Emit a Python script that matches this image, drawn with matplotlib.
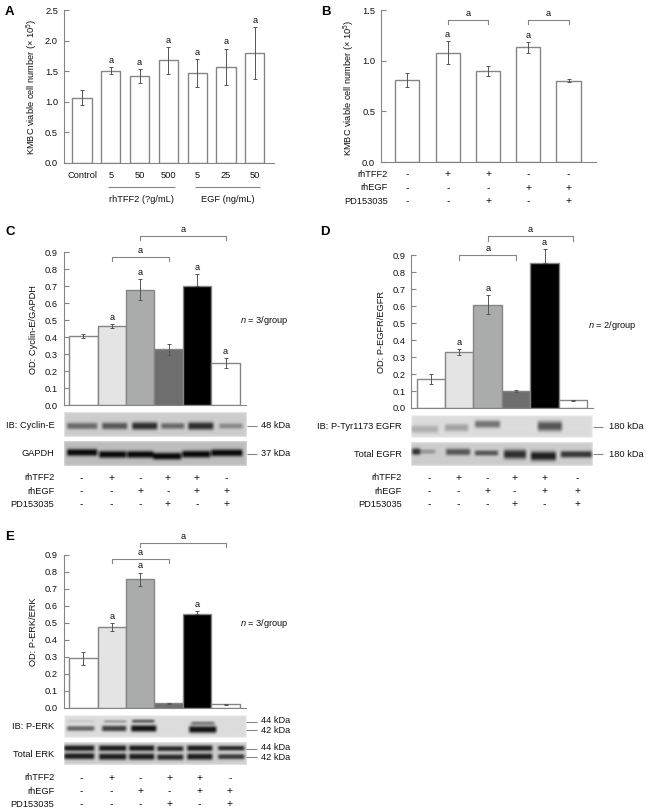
import matplotlib
matplotlib.use('Agg')
import matplotlib.pyplot as plt
import numpy as np

W, H = 647, 811
plt.rcParams['font.family'] = ['Liberation Sans', 'DejaVu Sans']
plt.rcParams['font.size'] = 6.7
plt.rcParams['mathtext.default'] = 'regular'
plt.rcParams['mathtext.fontset'] = 'custom'
plt.rcParams['mathtext.it'] = 'Liberation Sans:italic'
plt.rcParams['mathtext.rm'] = 'Liberation Sans'

# Bar values
a_labels = ['Control', '5', '50', '500', '5', '25', '50']
a_values = [1.07, 1.51, 1.42, 1.68, 1.47, 1.57, 1.80]
a_errors = [0.12, 0.06, 0.12, 0.22, 0.23, 0.30, 0.42]
a_marks = [0, 1, 1, 1, 1, 1, 1]

b_values = [0.81, 1.08, 0.90, 1.13, 0.80]
b_errors = [0.07, 0.11, 0.05, 0.05, 0.015]
b_marks = [0, 1, 0, 1, 0]

c_values = [0.41, 0.465, 0.68, 0.33, 0.70, 0.25]
c_errors = [0.012, 0.012, 0.062, 0.033, 0.07, 0.03]
c_marks = [0, 1, 1, 0, 1, 1]

d_values = [0.17, 0.33, 0.61, 0.10, 0.855, 0.045]
d_errors = [0.028, 0.017, 0.055, 0.005, 0.08, 0.005]
d_marks = [0, 1, 1, 0, 1, 0]

e_values = [0.29, 0.475, 0.755, 0.025, 0.55, 0.02]
e_errors = [0.04, 0.022, 0.04, 0.004, 0.018, 0.004]
e_marks = [0, 1, 1, 0, 1, 0]

# Treatment rows under the charts
b_signs = {'rhTFF2': '-++--', 'rhEGF': '---++', 'PD153035': '--+-+'}
cde_signs = {'rhTFF2': '-+-++-', 'rhEGF': '--+-++', 'PD153035': '---+-+'}

# Blot bands: x0, x1, y, strength, half height (pixels from the blot's top left)
cyclin_bands = [(3, 33, 14, .38, 3.4), (38, 63, 14, .45, 3.6), (68, 93, 14, .62, 3.9),
                (97, 120, 14, .38, 3.2), (124, 149, 14, .62, 3.9), (155, 178, 14, .26, 2.8)]
gapdh_bands = [(3, 33, 11.3, .7, 3.6), (35, 62, 13.3, .7, 3.6), (63, 89, 13.3, .7, 3.6),
               (89, 117, 15, .7, 3.6), (118, 146, 13, .7, 3.6), (147, 178, 11.7, .7, 3.6)]
pegfr_bands = [(0, 27, 14, .17, 3.8), (34, 57, 12.5, .22, 3.8), (64, 89, 9, .4, 3.8),
               (127, 151, 11, .52, 5)]
egfr_bands = [(1, 9, 9.3, .6, 3.4), (9, 24, 9.3, .2, 2.4), (35, 59, 9.7, .45, 3.4),
              (64, 87, 10.7, .45, 2.8), (93, 115, 12, .62, 4.6), (120, 145, 13.7, .68, 4.6),
              (150, 181, 12, .58, 3.4)]
perk_bands = [(3, 30, 13.3, .45, 2.6), (38, 62, 13.3, .6, 3), (67, 92, 13.3, .78, 3.4),
              (125, 152, 14.3, .78, 3.6), (3, 30, 6, .06, 1.6), (40, 62, 6.3, .22, 1.6),
              (68, 90, 6, .45, 1.9), (127, 150, 8, .34, 1.9)]
terk_bands = [(0, 30, 6, .68, 3), (35, 62, 6, .68, 3), (65, 90, 6, .68, 3),
              (93, 119, 6.5, .62, 2.7), (123, 148, 6, .68, 3), (154, 180, 6, .62, 2.5),
              (0, 30, 14, .68, 3.2), (35, 62, 14.5, .68, 3.3), (65, 90, 14.5, .68, 3.3),
              (93, 119, 15, .62, 3), (123, 148, 14.5, .68, 3.3), (154, 180, 14.5, .56, 2.7)]

bar_fills = ['white', '#e4e4e4', '#a9acab', '#6e6e6e', 'black', 'white']
GRAY = '#858585'
TEXT = '#111111'

fig = plt.figure(figsize=(W / 100, H / 100), dpi=100, facecolor='white')

# Everything that isn't a bar goes on this axes, in picture pixels
overlay = fig.add_axes([0, 0, 1, 1], zorder=10)
overlay.set_xlim(0, W)
overlay.set_ylim(H, 0)
overlay.axis('off')


def px_axes(left, top, right, bottom):
    return fig.add_axes([left / W, 1 - bottom / H, (right - left) / W, (bottom - top) / H])


def label(x, y, s, ha='center', **kw):
    overlay.text(x, y, s, ha=ha, va='center', color=TEXT, **kw)


def line(xs, ys, color=GRAY, lw=0.8):
    overlay.plot(xs, ys, color=color, lw=lw, solid_capstyle='butt')


def bar_panel(box, first_x, step, values, errors, marks, ymax, yticks, width, fills, fmt='%.1f'):
    left, top, right, bottom = box
    ax = px_axes(left, top, right, bottom)
    xs = np.arange(len(values))
    ax.bar(xs, values, width=width, color=fills, edgecolor=GRAY, linewidth=1.0)
    # the lower whisker can't be seen on the black bar
    fill_list = fills if isinstance(fills, list) else [fills] * len(values)
    lower = [0 if f == 'black' else e for f, e in zip(fill_list, errors)]
    ebars = ax.errorbar(xs, values, yerr=[lower, errors], fmt='none', ecolor='#555555',
                        elinewidth=0.7, capsize=1.6, capthick=0.7)
    for artist in list(ebars[1]) + list(ebars[2]):
        artist.set_clip_on(False)
    ax.set_xlim((left - first_x) / step, (right - first_x) / step)
    ax.set_ylim(0, ymax)
    ax.set_yticks(yticks)
    ax.set_yticklabels([fmt % t for t in yticks], color=TEXT)
    ax.tick_params(axis='y', direction='in', length=3.5, width=0.8, color=GRAY, pad=4)
    ax.set_xticks([])
    for side in ('top', 'right'):
        ax.spines[side].set_visible(False)
    for side in ('left', 'bottom'):
        ax.spines[side].set_color(GRAY)
        ax.spines[side].set_linewidth(0.8)
    for x, v, e, m in zip(xs, values, errors, marks):
        if m:
            ax.annotate('a', (x, v + e), xytext=(0, 1.5), textcoords='offset points',
                        ha='center', va='bottom', color=TEXT, annotation_clip=False)
    return ax


def bracket(ax, x0, x1, y, drop):
    ax.plot([x0, x0, x1, x1], [y - drop, y, y, y - drop], color=GRAY, lw=0.8, clip_on=False)
    ax.annotate('a', ((x0 + x1) / 2, y), xytext=(0, 1.5), textcoords='offset points',
                ha='center', va='bottom', color=TEXT, annotation_clip=False)


def blot(box, background, bands):
    left, top, right, bottom = box
    ax = px_axes(left, top, right, bottom)
    w, h = right - left, bottom - top
    xx, yy = np.meshgrid(np.linspace(0, w, int(w * 3)), np.linspace(0, h, int(h * 3)))
    img = np.full(xx.shape, float(background))
    for x0, x1, y, strength, half in bands:
        across = np.clip((xx - x0 + 2) / 4, 0, 1) * np.clip((x1 - xx + 2) / 4, 0, 1)
        img -= strength * across * np.exp(-np.abs((yy - y) / half) ** 2.6)
    # the membranes fade to a lighter edge
    edge = np.minimum.reduce([xx, w - xx, yy, h - yy])
    img += 0.12 * np.exp(-edge / 0.8)
    ax.imshow(np.clip(img, 0, 1), cmap='gray', vmin=0, vmax=1, aspect='auto',
              extent=(0, w, h, 0), interpolation='bilinear')
    ax.axis('off')


def sign_rows(xs, ys, label_x, signs):
    for y, (name, row) in zip(ys, signs.items()):
        label(label_x, y, name, ha='right')
        for x, s in zip(xs, row):
            label(x, y, s, fontsize=7.5)


# Panel A
ax_a = bar_panel((63.5, 10, 274, 163), 82, 28.8, a_values, a_errors, a_marks, 2.5,
                 [0, .5, 1, 1.5, 2, 2.5], 0.66, 'white')
ax_a.set_xticks(range(7))
ax_a.set_xticklabels(a_labels, color=TEXT)
ax_a.tick_params(axis='x', length=0, pad=6)
label(32, 87, 'KMBC viable cell number (× 10$^{5}$)', rotation=90)
line([108, 175], [186.7, 186.7])
line([195, 260], [186.7, 186.7])
label(141.7, 200, 'rhTFF2 (?g/mL)')
label(227.7, 200, 'EGF (ng/mL)')

# Panel B
ax_b = bar_panel((380.7, 10, 595.7, 162), 407.3, 40.3, b_values, b_errors, b_marks, 1.5,
                 [0, .5, 1, 1.5], 0.6, 'white')
bracket(ax_b, 1, 2, 1.40, 0.04)
bracket(ax_b, 3, 4, 1.40, 0.04)
label(349, 88, 'KMBC viable cell number (× 10$^{5}$)', rotation=90)
sign_rows([407.3, 448, 488.3, 528.3, 568.7], [174.3, 187.7, 201], 388, b_signs)

ticks_09 = [0, .1, .2, .3, .4, .5, .6, .7, .8, .9]

# Panel C
ax_c = bar_panel((63.5, 252.3, 246, 405.3), 83.3, 28.45, c_values, c_errors, c_marks, 0.9,
                 ticks_09, 1.0, bar_fills)
bracket(ax_c, 1, 3, 0.874, 0.026)
bracket(ax_c, 2, 5, 0.998, 0.026)
label(33.3, 330, 'OD: Cyclin-E/GAPDH', rotation=90)
label(240, 320.3, '$\\it{n}$ = 3/group', ha='left')
blot((63.5, 412.3, 246, 437.3), .80, cyclin_bands)
blot((63.5, 441, 246, 465.7), .74, gapdh_bands)
label(54.3, 425.7, 'IB: Cyclin-E', ha='right')
label(54.3, 453.7, 'GAPDH', ha='right')
line([247, 257], [425.7, 425.7])
line([247, 257], [453.7, 453.7])
label(261, 425.7, '48 kDa', ha='left')
label(261, 453.7, '37 kDa', ha='left')
sign_rows([81.3, 111.7, 140.3, 168, 197, 226.7], [477.7, 491, 504.3], 54.3, cde_signs)

# Panel D
ax_d = bar_panel((411, 255.3, 593, 408), 430.8, 28.45, d_values, d_errors, d_marks, 0.9,
                 ticks_09, 1.0, bar_fills)
bracket(ax_d, 1, 3, 0.90, 0.026)
bracket(ax_d, 2, 5, 1.012, 0.026)
label(381.7, 332, 'OD: P-EGFR/EGFR', rotation=90)
label(587.7, 325, '$\\it{n}$ = 2/group', ha='left')
blot((411, 415, 593, 437.7), .86, pegfr_bands)
blot((411, 442.3, 593, 465.7), .80, egfr_bands)
label(401.7, 426.7, 'IB: P-Tyr1173 EGFR', ha='right')
label(401.7, 454.3, 'Total EGFR', ha='right')
line([593, 603], [426.7, 426.7])
line([593, 603], [454.3, 454.3])
label(609.3, 426.7, '180 kDa', ha='left')
label(609.3, 454.3, '180 kDa', ha='left')
sign_rows([429, 458.7, 487.3, 514.3, 544.3, 577.3], [477.7, 491, 504.3], 401.7, cde_signs)

# Panel E
ax_e = bar_panel((63.5, 554.7, 246, 707.7), 83.3, 28.45, e_values, e_errors, e_marks, 0.9,
                 ticks_09, 1.0, bar_fills)
bracket(ax_e, 1, 3, 0.875, 0.026)
bracket(ax_e, 2, 5, 0.969, 0.026)
label(34, 631.7, 'OD: P-ERK/ERK', rotation=90)
label(240, 623, '$\\it{n}$ = 3/group', ha='left')
blot((63.5, 715, 246, 737.7), .86, perk_bands)
blot((63.5, 742, 246, 764.7), .80, terk_bands)
label(54.3, 726.7, 'IB: P-ERK', ha='right')
label(54.3, 754.3, 'Total ERK', ha='right')
for y in (722, 729.7, 749.3, 756.7):
    line([246, 257], [y, y])
label(261, 720.7, '44 kDa', ha='left')
label(261, 730.3, '42 kDa', ha='left')
label(261, 748, '44 kDa', ha='left')
label(261, 757.3, '42 kDa', ha='left')
sign_rows([81.3, 111.3, 140.3, 169.7, 199.3, 230], [777.7, 791, 804.3], 54.3, cde_signs)

# Panel letters
for x, y, s in [(5, 11.7, 'A'), (321, 11.7, 'B'), (5, 231.7, 'C'), (320, 231.7, 'D'), (5, 537.3, 'E')]:
    overlay.text(x, y, s, ha='left', va='center', fontweight='bold', fontsize=9.5, color='black')

fig.savefig('out.png', dpi=100)
